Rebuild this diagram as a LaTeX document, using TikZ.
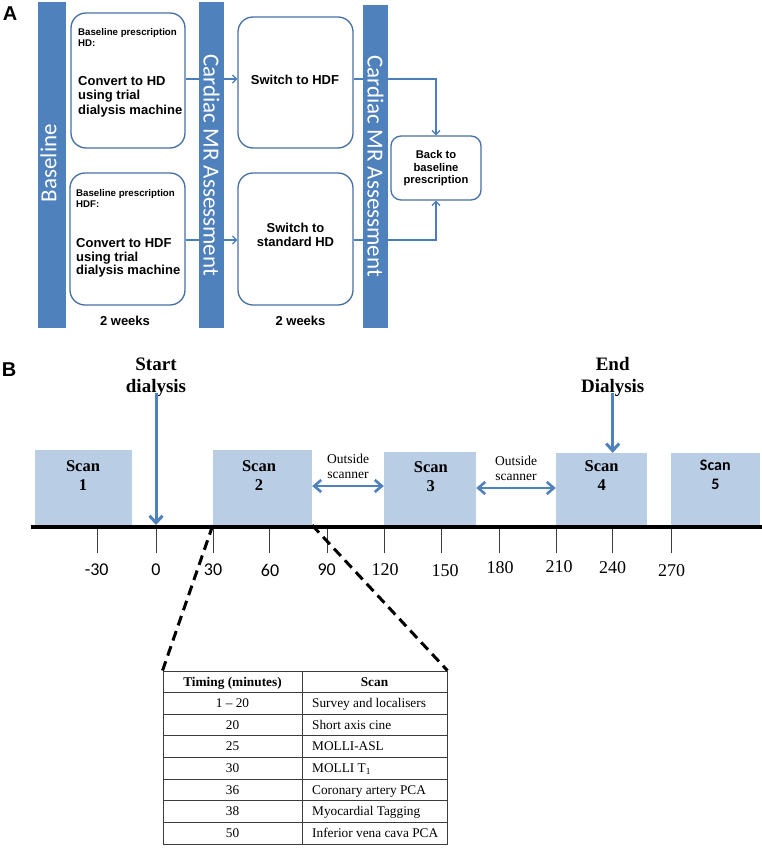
\documentclass[tikz,border=0pt]{standalone}
\usepackage{fontspec}
\setmainfont{Liberation Serif}
\newfontfamily\arialf{Liberation Sans}
\newfontfamily\calf{Carlito}
\usetikzlibrary{arrows.meta}
\definecolor{barblue}{RGB}{79,129,189}
\definecolor{edgeblue}{RGB}{70,112,165}
\definecolor{lineblue}{RGB}{74,126,187}
\definecolor{scanblue}{RGB}{185,205,229}
\definecolor{rulegray}{RGB}{60,60,60}
\begin{document}
\begin{tikzpicture}[x=1pt,y=-1pt,
  bar/.style={fill=barblue, draw=none, inner sep=0},
  bartext/.style={text=white, font=\calf\fontsize{23}{25}\selectfont, inner sep=0},
  phase/.style={draw=edgeblue, line width=1.3pt, rounded corners=15pt, fill=white, inner sep=0},
  smalltxt/.style={font=\arialf\bfseries\fontsize{9.7}{11}\selectfont, align=left, inner sep=0, anchor=north west},
  bigtxt/.style={font=\arialf\bfseries\fontsize{13}{14.5}\selectfont, align=left, inner sep=0, anchor=north west},
  bigtxtb/.style={font=\arialf\bfseries\fontsize{13}{13.4}\selectfont, align=left, inner sep=0, anchor=north west},
  midtxt/.style={font=\arialf\bfseries\fontsize{13}{13.5}\selectfont, align=center, inner sep=0},
  backtxt/.style={font=\arialf\bfseries\fontsize{11.2}{12.5}\selectfont, align=center, inner sep=0},
  weeks/.style={font=\arialf\bfseries\fontsize{13}{15}\selectfont, inner sep=0},
  panel/.style={font=\arialf\bfseries\fontsize{20}{22}\selectfont, inner sep=0},
  flow/.style={draw=lineblue, line width=1.3pt, -{Straight Barb[length=4pt,width=8pt]}},
  scan/.style={fill=scanblue, draw=none, inner sep=0},
  scantxt/.style={font=\bfseries\fontsize{16.5}{19}\selectfont, align=center, inner sep=0, anchor=north},
  evt/.style={font=\bfseries\fontsize{19}{22}\selectfont, align=center, inner sep=0, anchor=north},
  outs/.style={font=\fontsize{13.5}{15}\selectfont, align=center, inner sep=0, anchor=north},
  bigarr/.style={draw=barblue, line width=3pt, -{Straight Barb[length=7pt,width=13pt]}},
  dbl/.style={draw=barblue, line width=2.6pt, {Straight Barb[length=7pt,width=12pt]}-{Straight Barb[length=7pt,width=12pt]}},
  axisline/.style={draw=black, line width=4.3pt},
  tickline/.style={draw=rulegray, line width=1pt},
  labsans/.style={font=\calf\fontsize{18}{20}\selectfont, inner sep=0},
  labserif/.style={font=\fontsize{18}{20}\selectfont, inner sep=0},
  zoomline/.style={draw=black, line width=3pt, dash pattern=on 10pt off 6pt},
  rulel/.style={draw=rulegray, line width=0.9pt},
  thead/.style={font=\bfseries\fontsize{13.3}{16}\selectfont, inner sep=0, anchor=base},
  tcell/.style={font=\fontsize{13.3}{16}\selectfont, inner sep=0}
]
\useasboundingbox (0,0) rectangle (762,848);
\fill[white] (0,0) rectangle (762,848);

% ---------------- Panel A ----------------
\node[panel] (pA) at (10,14) {A};

\node[phase, minimum width=114, minimum height=135] (b1) at (128,80.5) {};
\node[phase, minimum width=115, minimum height=132] (b2) at (127.5,239) {};
\node[phase, minimum width=115, minimum height=131] (b3) at (295.5,82.5) {};
\node[phase, minimum width=115, minimum height=132] (b4) at (295.5,239) {};
\node[phase, rounded corners=10pt, minimum width=90, minimum height=64] (b5) at (436,168) {};

\node[smalltxt] (b1s) at (78,28) {Baseline prescription\\HD:};
\node[bigtxt] (b1t) at (78,75.8) {Convert to HD\\using trial\\dialysis machine};
\node[smalltxt] (b2s) at (76,189) {Baseline prescription\\HDF:};
\node[bigtxtb] (b2t) at (76,238.5) {Convert to HDF\\using trial\\dialysis machine};
\node[midtxt] (b3t) at (295,80) {Switch to HDF};
\node[midtxt] (b4t) at (295.5,235) {Switch to\\standard HD};
\node[backtxt] (b5t) at (436,168.5) {Back to\\baseline\\prescription};

\draw[flow] ([yshift=1.5pt]b1.east) -- ([yshift=1.5pt]b1.east -| b3.west);
\draw[flow] ([yshift=-1pt]b2.east) -- ([yshift=-1pt]b2.east -| b4.west);
\draw[flow] ([yshift=3.5pt]b3.east) -| (b5.north);
\draw[flow] ([yshift=-1pt]b4.east) -| (b5.south);

\node[bar, minimum width=28, minimum height=326] (basebar) at (52,165) {};
\node[bartext, rotate=90] (basetxt) at (48.5,163) {Baseline};
\node[bar, minimum width=25, minimum height=326] (cmr1) at (211.5,165) {};
\node[bartext, rotate=-90] (cmr1t) at (211.5,165) {Cardiac MR Assessment};
\node[bar, minimum width=25, minimum height=323] (cmr2) at (375.5,166.5) {};
\node[bartext, rotate=-90] (cmr2t) at (375.5,166) {Cardiac MR Assessment};

\node[weeks] (w1) at (125,321) {2 weeks};
\node[weeks] (w2) at (300.5,321) {2 weeks};

% ---------------- Panel B ----------------
\node[panel] (pB) at (9,370) {B};

\node[scan, minimum width=97, minimum height=75] (s1) at (83.5,487.5) {};
\node[scan, minimum width=99, minimum height=75] (s2) at (262.5,487.5) {};
\node[scan, minimum width=92, minimum height=73] (s3) at (430,488.5) {};
\node[scan, minimum width=91, minimum height=72] (s4) at (601.5,489) {};
\node[scan, minimum width=89, minimum height=72] (s5) at (715.5,489) {};

\node[scantxt] (st1) at (83,460) {Scan\\1};
\node[scantxt] (st2) at (259,460) {Scan\\2};
\node[scantxt] (st3) at (430.8,461) {Scan\\3};
\node[scantxt] (st4) at (601.7,460) {Scan\\4};
\node[scantxt, font=\calf\bfseries\fontsize{16}{19}\selectfont] (st5) at (715.3,459.6) {Scan\\5};

\coordinate (axL) at (31,527);
\coordinate (axR) at (762,527);
\draw[axisline] (axL) -- (axR);

\foreach \n/\x in {m30/97, 0/156, 30/213, 60/269.5, 90/327, 120/384.5, 150/441.7, 180/499, 210/556.7, 240/612.7, 270/671.7} {
  \coordinate (tk\n) at (\x,529);
  \coordinate (tb\n) at (\x,553);
  \draw[tickline] (tk\n) -- (tb\n);
}
\foreach \n/\x/\lab in {m30/96.7/-30, 0/156/0, 30/213/30, 60/270/60, 90/326.7/90} {
  \node[labsans] (lab\n) at (\x,570) {\lab};
}
\foreach \n/\x/\y in {120/385/570, 150/445/571, 180/500/568, 210/559/567, 240/612.5/568, 270/671.7/571} {
  \node[labserif] (lab\n) at (\x,\y) {\n};
}

\node[evt] (start) at (156,357.5) {Start\\dialysis};
\coordinate (t0) at (156,525);
\draw[bigarr] ([yshift=4pt]start.south) -- (t0);

\node[evt] (endd) at (612.7,357.5) {End\\Dialysis};
\draw[bigarr] ([yshift=4pt]endd.south) -- (endd.south |- s4.north);

\node[outs] (o1) at (348,453.6) {Outside\\scanner};
\node[outs] (o2) at (516,455.6) {Outside\\scanner};
\draw[dbl] ([yshift=1.5pt]s2.east) -- ([yshift=1.5pt]s2.east -| s3.west);
\draw[dbl] ([yshift=0.5pt]s3.east) -- ([yshift=0.5pt]s3.east -| s4.west);

% table
\node[draw=rulegray, line width=0.9pt, minimum width=284, minimum height=173, inner sep=0] (tbl) at (305,757.5) {};
\draw[zoomline] (s2.south west) -- (tbl.north west);
\draw[zoomline] (s2.south east) -- (tbl.north east);
\coordinate (colT) at (302,671);
\coordinate (colB) at (302,844);
\draw[rulel] (colT) -- (colB);
\foreach \k in {1,...,7} {
  \pgfmathsetmacro\yy{671+21.625*\k}
  \draw[rulel] (163,\yy) -- (447,\yy);
}
\node[thead] (h1) at (232.5,686.1) {Timing (minutes)};
\node[thead] (h2) at (374.5,686.1) {Scan};
\foreach \k/\a/\b in {1/1 – 20/Survey and localisers, 2/20/Short axis cine, 3/25/MOLLI-ASL, 4/30/MOLLI T\textsubscript{1}, 5/36/Coronary artery PCA, 6/38/Myocardial Tagging, 7/50/Inferior vena cava PCA} {
  \pgfmathsetmacro\yy{671+21.625*\k+15.1}
  \node[tcell, anchor=base] (ra\k) at (232.5,\yy) {\a};
  \node[tcell, anchor=base west] (rb\k) at (312,\yy) {\b};
}
\end{tikzpicture}
\end{document}
